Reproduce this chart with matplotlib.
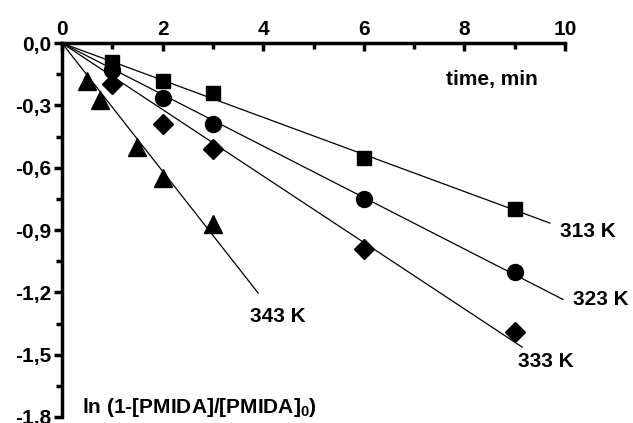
import numpy as np
import matplotlib
matplotlib.use("Agg")
import matplotlib.pyplot as plt
from matplotlib.ticker import FuncFormatter, MultipleLocator

plt.rcParams['font.family'] = ['Liberation Sans', 'DejaVu Sans']
plt.rcParams['font.weight'] = 'bold'
plt.rcParams['mathtext.fontset'] = 'custom'
plt.rcParams['mathtext.bf'] = 'Liberation Sans:bold'
plt.rcParams['mathtext.rm'] = 'Liberation Sans:bold'

# Data
t_313 = [1, 2, 3, 6, 9]
y_313 = [-0.09, -0.18, -0.24, -0.555, -0.80]
t_323 = [1, 2, 3, 6, 9]
y_323 = [-0.13, -0.265, -0.39, -0.75, -1.10]
t_333 = [1, 2, 3, 6, 9]
y_333 = [-0.195, -0.39, -0.51, -0.99, -1.39]
t_343 = [0.5, 0.75, 1.5, 2, 3]
y_343 = [-0.18, -0.275, -0.50, -0.65, -0.87]
labels = ['313 K', '323 K', '333 K', '343 K']
line_end = [9.7, 9.96, 9.15, 3.9]

series = [(t_313, y_313, 's', 10.5), (t_323, y_323, 'o', 11.5),
          (t_333, y_333, 'D', 10.5), (t_343, y_343, '^', 13)]

fig = plt.figure(figsize=(6.33, 4.23), dpi=100)
ax = fig.add_axes([0.098, 0.0142, 0.7946, 0.8838])

for (t, y, m, ms), xe in zip(series, line_end):
    t = np.asarray(t); y = np.asarray(y)
    slope = np.sum(t * y) / np.sum(t * t)
    xx = np.array([0, xe])
    ax.plot(xx, slope * xx, color='black', lw=0.9)
    ax.plot(t, y, linestyle='none', marker=m, markersize=ms, color='black')

ax.set_xlim(0, 10)
ax.set_ylim(-1.8, 0)
for s in ['right', 'bottom']:
    ax.spines[s].set_visible(False)
for s in ['left', 'top']:
    ax.spines[s].set_linewidth(2.5)

ax.xaxis.tick_top()
ax.xaxis.set_major_locator(MultipleLocator(2))
ax.xaxis.set_minor_locator(MultipleLocator(1))
ax.yaxis.set_major_locator(MultipleLocator(0.3))
ax.yaxis.set_minor_locator(MultipleLocator(0.15))
fs = 15
ax.tick_params(axis='x', which='both', direction='in', width=2.5, labelsize=fs, pad=3)
ax.tick_params(axis='x', which='major', length=6)
ax.tick_params(axis='x', which='minor', length=4)
ax.tick_params(axis='y', which='both', direction='out', width=2.5, labelsize=fs, pad=2)
ax.tick_params(axis='y', which='major', length=6)
ax.tick_params(axis='y', which='minor', length=4)

ax.xaxis.set_major_formatter(FuncFormatter(lambda v, p: f"{v:.0f}"))
ax.yaxis.set_major_formatter(FuncFormatter(lambda v, p: f"{v:.1f}".replace('.', ',') if abs(v) > 1e-9 else "0,0"))
for lab in ax.get_xticklabels() + ax.get_yticklabels():
    lab.set_fontweight('bold')

ax.text(8.55, -0.175, 'time, min', fontsize=fs, fontweight='bold', ha='center', va='center')
ax.text(0.4, -1.755, r'ln (1-[PMIDA]/[PMIDA]$_\mathbf{0}$)', fontsize=fs, fontweight='bold', ha='left', va='center')

ax.text(9.9, -0.905, labels[0], fontsize=fs, fontweight='bold', ha='left', va='center')
ax.text(10.16, -1.234, labels[1], fontsize=fs, fontweight='bold', ha='left', va='center')
ax.text(9.07, -1.534, labels[2], fontsize=fs, fontweight='bold', ha='left', va='center')
ax.text(3.74, -1.317, labels[3], fontsize=fs, fontweight='bold', ha='left', va='center')

for ln in ax.lines:
    ln.set_clip_on(False)

fig.savefig('out.png', dpi=100)
